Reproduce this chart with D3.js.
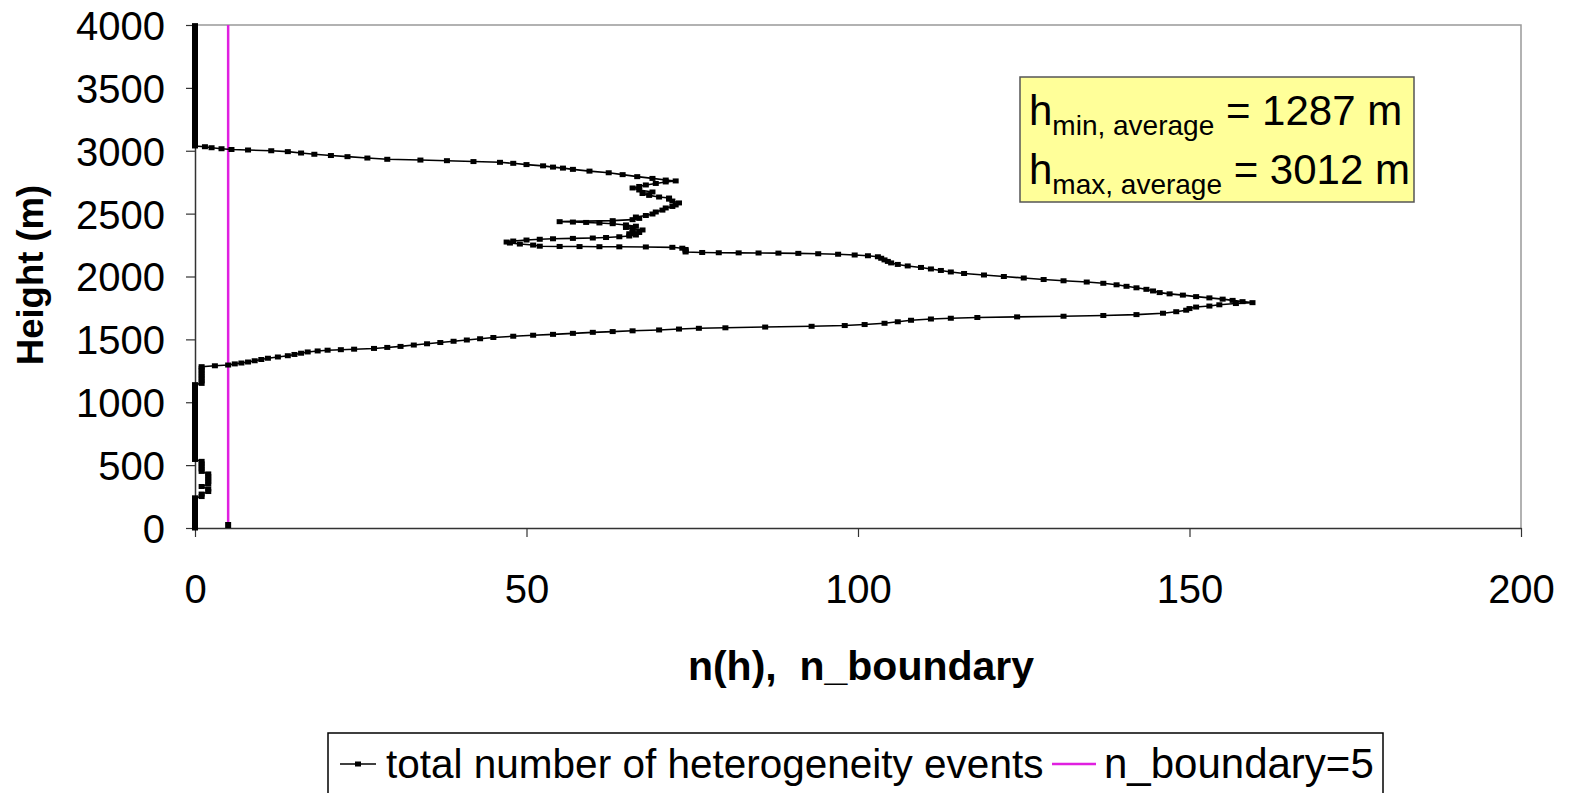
<!DOCTYPE html>
<html><head><meta charset="utf-8">
<script src="https://cdn.jsdelivr.net/npm/d3@7"></script>
<style>
html,body{margin:0;padding:0;background:#fff;}
svg{display:block;font-family:"Liberation Sans",Arial,sans-serif;}
</style></head>
<body>
<svg id="chart" width="1572" height="793"></svg>
<script>
// ---- data ----
const xTicks = [0, 50, 100, 150, 200];
const yTicks = [0, 500, 1000, 1500, 2000, 2500, 3000, 3500, 4000];
const xTitle = "n(h),  n_boundary";
const yTitle = "Height (m)";
const seriesNames = ["total number of heterogeneity events", "n_boundary=5"];
const nBoundary = 5;
const hMinAverage = 1287;
const hMaxAverage = 3012;
// [height (m), n(h)]
const profile = [
 [0,0],[30,0],[60,0],[90,0],[120,0],[150,0],[180,0],[210,0],[240,0],
 [250,1],[270,1],[290,2],[310,2],[330,1],[350,2],[370,2],[390,2],[410,2],[430,2],[450,1],[470,1],[490,1],[510,1],[530,1],
 [545,0],[575,0],[605,0],[635,0],[665,0],[695,0],[725,0],[755,0],[785,0],[815,0],[845,0],[875,0],[905,0],[935,0],[965,0],[995,0],[1025,0],[1055,0],[1085,0],[1115,0],[1140,0],
 [1150,1],[1170,1],[1190,1],[1210,1],[1230,1],[1250,1],[1270,1],[1283,1],
 [1290,3],[1296,5],[1305,6],[1312,7],[1320,8],[1330,9],[1340,10],[1350,11],[1360,12.5],[1370,14],[1380,15],[1390,16],[1400,17],[1408,18.5],[1414,20],[1418,22],[1422,24],[1428,27],[1436,29],[1444,31],[1455,33],[1465,35],[1475,37],[1485,39],[1495,41],[1505,43],[1515,45],[1525,48],[1533,51],[1540,54],[1548,57],[1556,60],[1562,63],[1568,66],[1575,70],[1582,73],[1588,76],[1592,80],[1598,86],[1604,93],[1610,98],[1618,101],[1628,104],[1640,106],[1652,108],[1662,111],[1668,114],[1674,118],[1679,124],[1684,131],[1690,137],[1697,142],[1708,146],[1720,148],[1732,149.5],[1745,150],[1757,151],[1765,153],[1775,154.5],[1785,157],[1792,159.5],
 [1800,158],[1810,156.5],[1820,155],[1830,153],[1840,151],[1852,149],[1862,147],[1872,145.5],[1885,144.5],[1898,143.5],[1910,142],[1922,140.5],[1934,139],[1946,137],[1956,134.5],[1966,131],[1976,128],[1988,125],[2000,122],[2012,119],[2024,116],[2036,114],[2048,112.5],[2060,111],[2072,109.5],[2084,107.5],[2096,106],[2108,105],[2120,104.5],[2132,104],[2145,103.5],[2157,103],[2165,101.5],[2171,99.5],[2177,97],[2181,94],[2184,91],[2186,88],[2187,85],[2188,82],[2189,79],[2191,76.5],[2195,74],
 [2205,74],[2215,74],[2225,73.5],[2232,72],[2235,68],[2236,64],[2237,61],[2238,58],[2239,55],[2241,52],[2250,51],[2258,49],[2266,47.5],[2274,47],[2282,48],[2290,50],[2296,52],[2300,54],[2303,57],[2306,60],[2310,62],[2316,64],[2322,65.5],[2330,66.5],[2340,65.5],[2350,67],[2360,66],[2370,67.5],[2380,66],[2390,65],[2400,66.5],[2410,65],[2420,63],[2426,61],[2430,59],[2433,57],[2436,55],[2444,63],[2452,66],[2462,67],[2473,66.5],[2485,68],[2497,69],[2513,69.5],[2528,70.5],[2545,71],[2557,72],[2569,72.5],[2585,73],[2600,72],[2615,71.5],[2624,71.5],[2632,70],[2645,68.5],[2660,67.5],[2672,69],[2688,67],[2704,66],[2716,67],[2728,68],[2740,69.5],[2752,71],[2760,72.5],[2767,71],[2780,69],[2794,66.7],[2810,64.5],[2825,62.4],[2838,59.5],[2852,57],[2862,55.5],[2870,54],[2880,52.5],[2890,50],[2900,48],[2908,46],[2914,42],[2921,38],[2926,34],[2932,29],[2942,26],[2953,23],[2962,20.5],[2972,18],[2982,16],[2993,14],[3000,11.5],[3006,8],[3010,5.5],[3016,4],[3024,2.5],[3032,1.5],
 [3038,0],[3065,0],[3095,0],[3125,0],[3155,0],[3185,0],[3215,0],[3245,0],[3275,0],[3305,0],[3335,0],[3365,0],[3395,0],[3425,0],[3455,0],[3485,0],[3515,0],[3545,0],[3575,0],[3605,0],[3635,0],[3665,0],[3695,0],[3725,0],[3755,0],[3785,0],[3815,0],[3845,0],[3875,0],[3905,0],[3935,0],[3965,0],[3995,0]
];
const boundary = [[0, nBoundary], [4000, nBoundary]];

// ---- drawing ----
const svg = d3.select("#chart");
const x = d3.scaleLinear().domain([0, 200]).range([195, 1521]);
const y = d3.scaleLinear().domain([0, 4000]).range([528, 25]);
const FS = 40;

// plot-area border (top/right)
svg.append("path")
  .attr("d", `M${x(0)},${y(4000)}H${x(200)}V${y(0)}`)
  .attr("fill", "none").attr("stroke", "#999").attr("stroke-width", 1.5);

// axes
const xAxis = d3.axisBottom(x).tickValues(xTicks).tickSize(9).tickSizeOuter(0).tickPadding(38).tickFormat(d3.format("d"));
const gx = svg.append("g").attr("transform", `translate(0,${y(0)})`).call(xAxis);
const yAxis = d3.axisLeft(y).tickValues(yTicks).tickSize(9).tickSizeOuter(0).tickPadding(21).tickFormat(d3.format("d"));
const gy = svg.append("g").attr("transform", `translate(${x(0)},0)`).call(yAxis);
[gx, gy].forEach(g => {
  g.select(".domain").attr("stroke", "#333").attr("stroke-width", 1.5);
  g.selectAll(".tick line").attr("stroke", "#333").attr("stroke-width", 1.2);
  g.selectAll(".tick text").attr("fill", "#000").style("font-size", FS + "px")
    .style("font-family", "'Liberation Sans',Arial,sans-serif");
});
gy.selectAll(".tick text").attr("dy", "0.36em");

// boundary line
svg.append("path").datum(boundary)
  .attr("d", d3.line().x(d => x(d[1])).y(d => y(d[0])))
  .attr("stroke", "#e020e0").attr("stroke-width", 2.5).attr("fill", "none");
svg.append("rect").attr("x", x(nBoundary) - 3).attr("y", y(0) - 6).attr("width", 6).attr("height", 6).attr("fill", "#000");

// profile
svg.append("path").datum(profile)
  .attr("d", d3.line().x(d => x(d[1])).y(d => y(d[0])))
  .attr("stroke", "#000").attr("stroke-width", 1.6).attr("fill", "none");
svg.append("g").selectAll("rect").data(profile).join("rect")
  .attr("x", d => x(d[1]) - 3).attr("y", d => y(d[0]) - 2.5)
  .attr("width", 6).attr("height", 5).attr("fill", "#000");

// axis titles
svg.append("text").attr("x", 861).attr("y", 680).attr("text-anchor", "middle")
  .style("font-size", "41px").style("font-weight", "bold").attr("xml:space", "preserve")
  .text(xTitle);
svg.append("text").attr("transform", "translate(43,275) rotate(-90)").attr("text-anchor", "middle")
  .style("font-size", "36.5px").style("font-weight", "bold").text(yTitle);

// annotation box
const box = svg.append("g");
box.append("rect").attr("x", 1020).attr("y", 77).attr("width", 394).attr("height", 125)
  .attr("fill", "#ffff99").attr("stroke", "#555").attr("stroke-width", 1.5);
function annot(yb, sub, val) {
  const t = box.append("text").attr("x", 1029).attr("y", yb).style("font-size", "42px");
  t.append("tspan").text("h");
  t.append("tspan").attr("dy", 10).style("font-size", "28px").text(sub);
  t.append("tspan").attr("dy", -10).text(" = " + val + " m");
}
annot(125, "min, average", hMinAverage);
annot(184, "max, average", hMaxAverage);

// legend
const lg = svg.append("g");
lg.append("rect").attr("x", 328).attr("y", 733).attr("width", 1055).attr("height", 70)
  .attr("fill", "#fff").attr("stroke", "#000").attr("stroke-width", 1.5);
lg.append("line").attr("x1", 340).attr("x2", 376).attr("y1", 764).attr("y2", 764).attr("stroke", "#000").attr("stroke-width", 1.5);
lg.append("rect").attr("x", 355).attr("y", 761.5).attr("width", 6).attr("height", 5).attr("fill", "#000");
lg.append("text").attr("x", 386).attr("y", 778).style("font-size", "40.5px").text(seriesNames[0]);
lg.append("line").attr("x1", 1052).attr("x2", 1096).attr("y1", 764).attr("y2", 764).attr("stroke", "#e020e0").attr("stroke-width", 2.5);
lg.append("text").attr("x", 1104).attr("y", 778).style("font-size", "42px").text(seriesNames[1]);
</script>
</body></html>
